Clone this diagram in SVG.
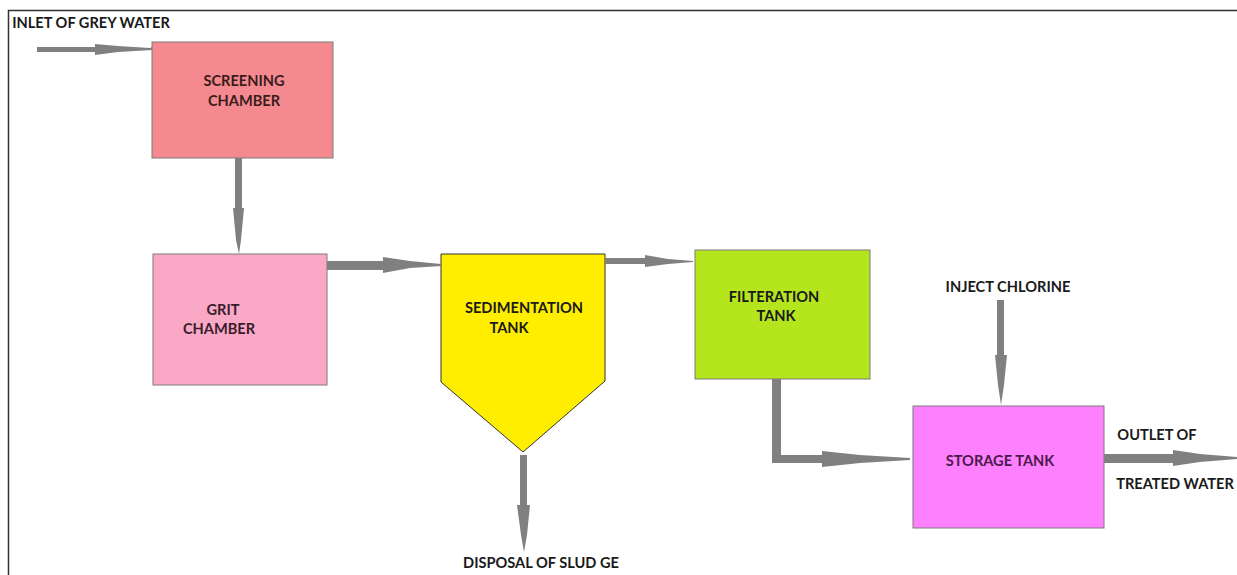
<svg xmlns="http://www.w3.org/2000/svg" width="1237" height="575" viewBox="0 0 1237 575">
<style>
.lbl{font-family:Lato,"Liberation Sans",sans-serif;font-weight:bold;font-size:14.6px;fill:#1a1a1a;text-anchor:middle}
.box{stroke:#7a7a7a;stroke-width:1}
.arr{fill:#808080;stroke:none}
</style>
<rect x="0" y="0" width="1237" height="575" fill="#ffffff"/>
<path d="M8.5 575 V10.5 H1237" fill="none" stroke="#333" stroke-width="1.5"/>
<text class="lbl" x="91" y="28">INLET OF GREY WATER</text>
<g id="screening">
<rect class="box" x="152" y="42" width="181" height="116" fill="#F48A8F"/>
<text class="lbl" x="244" y="86" style="fill:#3a1c1c">SCREENING</text>
<text class="lbl" x="244" y="106" style="fill:#3a1c1c">CHAMBER</text>
</g>
<g id="grit">
<rect class="box" x="153" y="254" width="174" height="131" fill="#F9A9C6"/>
<text class="lbl" x="223" y="315" style="fill:#3a1c2a">GRIT</text>
<text class="lbl" x="219" y="334" style="fill:#3a1c2a">CHAMBER</text>
</g>
<g id="sedimentation">
<path d="M441 254 H605 V381 L523 452 L441 382 Z" fill="#FFEE00" stroke="#333" stroke-width="1"/>
<text class="lbl" x="524" y="313">SEDIMENTATION</text>
<text class="lbl" x="509" y="333">TANK</text>
</g>
<g id="filtration">
<rect class="box" x="695" y="250" width="175" height="129" fill="#B5E61D" stroke="#444"/>
<text class="lbl" x="774" y="302">FILTERATION</text>
<text class="lbl" x="776" y="321">TANK</text>
</g>
<g id="storage">
<rect class="box" x="913" y="406" width="191" height="122" fill="#FF80FF"/>
<text class="lbl" x="1000" y="466" style="fill:#4a1a4a">STORAGE TANK</text>
</g>
<text class="lbl" x="1008" y="292">INJECT CHLORINE</text>
<text class="lbl" x="1157" y="440">OUTLET OF</text>
<text class="lbl" x="1175" y="489">TREATED WATER</text>
<text class="lbl" x="541" y="568">DISPOSAL OF SLUD GE</text>
<g id="connectors">
<!-- inlet -->
<path class="arr" d="M37 47 H95 V44 L118 46 L150 48 L152 47 V50 L118 52 L95 55 V52 H37 Z"/>
<!-- screening to grit -->
<path class="arr" d="M235 158 H242 V208 H244 L241 240 L239 254 L236 240 L233 208 H235 Z"/>
<!-- grit to sed -->
<path class="arr" d="M327 261 H383 V257 L410 261 L441 264 V266 L410 268 L383 273 V270 H327 Z"/>
<!-- sed to filt -->
<path class="arr" d="M605 258 H645 V255 L668 259 L693 261 V262 L668 264 L645 267 V264 H605 Z"/>
<!-- filt to storage -->
<path class="arr" d="M772 379 H781 V455 H822 V451 L860 455 L910 458 V460 L860 463 L822 467 V463 H772 Z"/>
<!-- chlorine -->
<path class="arr" d="M997 300 H1004 V355 H1007 L1004 385 L1001 405 L998 385 L995 355 H997 Z"/>
<!-- outlet -->
<path class="arr" d="M1104 454 H1173 V450 L1200 454 L1237 457 V459 L1200 462 L1173 466 V463 H1104 Z"/>
<!-- sludge -->
<path class="arr" d="M520 455 H527 V505 H530 L527 535 L524 552 L521 535 L517 505 H520 Z"/>
</g>
</svg>
